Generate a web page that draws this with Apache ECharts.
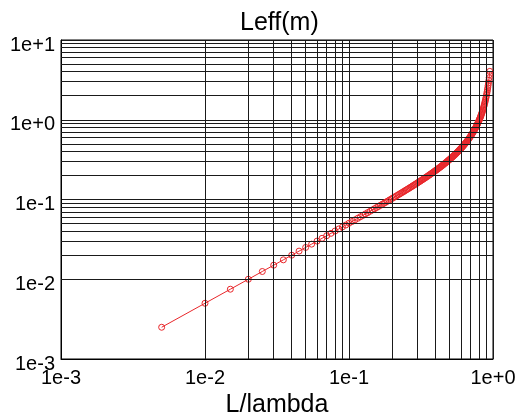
<!DOCTYPE html>
<html>
<head>
<meta charset="utf-8">
<script src="https://cdn.jsdelivr.net/npm/echarts@6/dist/echarts.min.js"></script>
<style>
  html, body { margin: 0; padding: 0; background: #fff; }
  #chart { width: 516px; height: 417px; }
</style>
</head>
<body>
<div id="chart"></div>
<script>
// tick labels
const xTickLabels = ['1e-3', '1e-2', '1e-1', '1e+0']
const yTickLabels = ['1e-3', '1e-2', '1e-1', '1e+0', '1e+1']

// L/lambda
const lOverLambda = [
  0.005, 0.01, 0.015, 0.02, 0.025, 0.03, 0.035, 0.04, 0.045, 0.05,
  0.055, 0.06, 0.065, 0.07, 0.075, 0.08, 0.085, 0.09, 0.095, 0.1,
  0.105, 0.11, 0.115, 0.12, 0.125, 0.13, 0.135, 0.14, 0.145, 0.15,
  0.155, 0.16, 0.165, 0.17, 0.175, 0.18, 0.185, 0.19, 0.195, 0.2,
  0.205, 0.21, 0.215, 0.22, 0.225, 0.23, 0.235, 0.24, 0.245, 0.25,
  0.255, 0.26, 0.265, 0.27, 0.275, 0.28, 0.285, 0.29, 0.295, 0.3,
  0.305, 0.31, 0.315, 0.32, 0.325, 0.33, 0.335, 0.34, 0.345, 0.35,
  0.355, 0.36, 0.365, 0.37, 0.375, 0.38, 0.385, 0.39, 0.395, 0.4,
  0.405, 0.41, 0.415, 0.42, 0.425, 0.43, 0.435, 0.44, 0.445, 0.45,
  0.455, 0.46, 0.465, 0.47, 0.475, 0.48, 0.485, 0.49, 0.495, 0.5,
  0.505, 0.51, 0.515, 0.52, 0.525, 0.53, 0.535, 0.54, 0.545, 0.55,
  0.555, 0.56, 0.565, 0.57, 0.575, 0.58, 0.585, 0.59, 0.595, 0.6,
  0.605, 0.61, 0.615, 0.62, 0.625, 0.63, 0.635, 0.64, 0.645, 0.65,
  0.655, 0.66, 0.665, 0.67, 0.675, 0.68, 0.685, 0.69, 0.695, 0.7,
  0.705, 0.71, 0.715, 0.72, 0.725, 0.73, 0.735, 0.74, 0.745, 0.75,
  0.755, 0.76, 0.765, 0.77, 0.775, 0.78, 0.785, 0.79, 0.795, 0.8,
  0.805, 0.81, 0.815, 0.82, 0.825, 0.83, 0.835, 0.84, 0.845, 0.85,
  0.855, 0.86, 0.865, 0.87, 0.875, 0.88, 0.885, 0.89, 0.895, 0.9,
  0.905, 0.91, 0.915, 0.92, 0.925, 0.93, 0.935, 0.94, 0.945, 0.95
]

// Leff (m)
const leff = [
  0.0025, 0.005, 0.0075, 0.01, 0.01251, 0.01501, 0.01752, 0.02003, 0.02254, 0.02505,
  0.02757, 0.03009, 0.03261, 0.03514, 0.03767, 0.04021, 0.04276, 0.0453, 0.04786, 0.05042,
  0.05298, 0.05555, 0.05813, 0.06072, 0.06332, 0.06592, 0.06853, 0.07115, 0.07378, 0.07642,
  0.07907, 0.08173, 0.0844, 0.08708, 0.08977, 0.09248, 0.0952, 0.09793, 0.1007, 0.1034,
  0.1062, 0.109, 0.1118, 0.1146, 0.1174, 0.1203, 0.1231, 0.126, 0.1289, 0.1319,
  0.1348, 0.1377, 0.1407, 0.1437, 0.1467, 0.1498, 0.1529, 0.1559, 0.1591, 0.1622,
  0.1654, 0.1685, 0.1718, 0.175, 0.1783, 0.1816, 0.1849, 0.1883, 0.1916, 0.1951,
  0.1985, 0.202, 0.2055, 0.2091, 0.2127, 0.2163, 0.22, 0.2237, 0.2275, 0.2313,
  0.2351, 0.239, 0.2429, 0.2469, 0.2509, 0.255, 0.2591, 0.2633, 0.2676, 0.2719,
  0.2762, 0.2806, 0.2851, 0.2896, 0.2942, 0.2989, 0.3037, 0.3085, 0.3134, 0.3183,
  0.3234, 0.3285, 0.3337, 0.339, 0.3443, 0.3498, 0.3554, 0.3611, 0.3668, 0.3727,
  0.3787, 0.3848, 0.391, 0.3973, 0.4038, 0.4104, 0.4171, 0.424, 0.431, 0.4381,
  0.4454, 0.4529, 0.4606, 0.4684, 0.4764, 0.4846, 0.493, 0.5016, 0.5104, 0.5194,
  0.5287, 0.5382, 0.548, 0.5581, 0.5684, 0.579, 0.5899, 0.6012, 0.6128, 0.6247,
  0.637, 0.6498, 0.6629, 0.6765, 0.6905, 0.705, 0.72, 0.7356, 0.7517, 0.7685,
  0.7859, 0.804, 0.8228, 0.8424, 0.8628, 0.8841, 0.9064, 0.9297, 0.9541, 0.9797,
  1.006, 1.035, 1.064, 1.096, 1.129, 1.164, 1.201, 1.24, 1.281, 1.326,
  1.373, 1.424, 1.478, 1.537, 1.6, 1.669, 1.743, 1.824, 1.912, 2.01,
  2.117, 2.237, 2.37, 2.52, 2.689, 2.883, 3.107, 3.367, 3.675, 4.045
]

const red = '#e8262a'
const gridColor = '#1a1a1a'
const font = 'Liberation Sans, Arial, sans-serif'

// minor grid lines at 2..9 of each decade
const minorLines = (decades) => {
  const out = []
  decades.forEach(d => {
    for (let m = 2; m <= 9; m++) out.push(+(m * d).toPrecision(3))
  })
  return out
}
const xMinor = minorLines([1e-3, 1e-2, 1e-1])
const yMinor = minorLines([1e-3, 1e-2, 1e-1, 1e0])

const logLabel = (labels) => (v) => labels[Math.round(Math.log10(v)) + 3]

const chart = echarts.init(document.getElementById('chart'))

chart.setOption({
  animation: false,
  title: {
    text: 'Leff(m)',
    left: 235,
    top: 6,
    textStyle: { fontFamily: font, fontSize: 25, fontWeight: 'normal', color: '#000' }
  },
  grid: {
    left: 61,
    right: 23,
    top: 40,
    bottom: 58,
    show: true,
    borderColor: '#000',
    borderWidth: 1,
    outerBoundsMode: 'none'
  },
  xAxis: {
    type: 'log',
    logBase: 10,
    min: 1e-3,
    max: 1,
    name: 'L/lambda',
    nameLocation: 'middle',
    nameGap: 31,
    nameTextStyle: { fontFamily: font, fontSize: 25, color: '#000' },
    axisLine: { show: true, lineStyle: { color: '#000', width: 1 } },
    axisTick: { show: false },
    axisLabel: {
      fontFamily: font, fontSize: 20, color: '#000', margin: 9,
      showMinLabel: true, showMaxLabel: true,
      formatter: logLabel(xTickLabels)
    },
    splitLine: { show: true, lineStyle: { color: gridColor, width: 1 } }
  },
  yAxis: {
    type: 'log',
    logBase: 10,
    min: 1e-3,
    max: 10,
    axisLine: { show: true, lineStyle: { color: '#000', width: 1 } },
    axisTick: { show: false },
    axisLabel: {
      fontFamily: font, fontSize: 20, color: '#000', margin: 6,
      verticalAlign: 'top',
      lineHeight: 10,
      showMinLabel: true, showMaxLabel: true,
      formatter: logLabel(yTickLabels)
    },
    splitLine: { show: true, lineStyle: { color: gridColor, width: 1 } }
  },
  series: [
    {
      type: 'line',
      data: [],
      z: 1,
      silent: true,
      markLine: {
        silent: true,
        symbol: 'none',
        animation: false,
        label: { show: false },
        lineStyle: { color: gridColor, width: 1, type: 'solid' },
        emphasis: { disabled: true },
        data: [
          ...xMinor.map(v => ({ xAxis: v })),
          ...yMinor.map(v => ({ yAxis: v }))
        ]
      }
    },
    {
      name: 'Leff',
      type: 'line',
      z: 3,
      data: lOverLambda.map((x, i) => [x, leff[i]]),
      symbol: 'circle',
      symbolSize: 6,
      showAllSymbol: true,
      lineStyle: { color: red, width: 1 },
      itemStyle: { color: 'transparent', borderColor: red, borderWidth: 1 }
    }
  ]
})
</script>
</body>
</html>
